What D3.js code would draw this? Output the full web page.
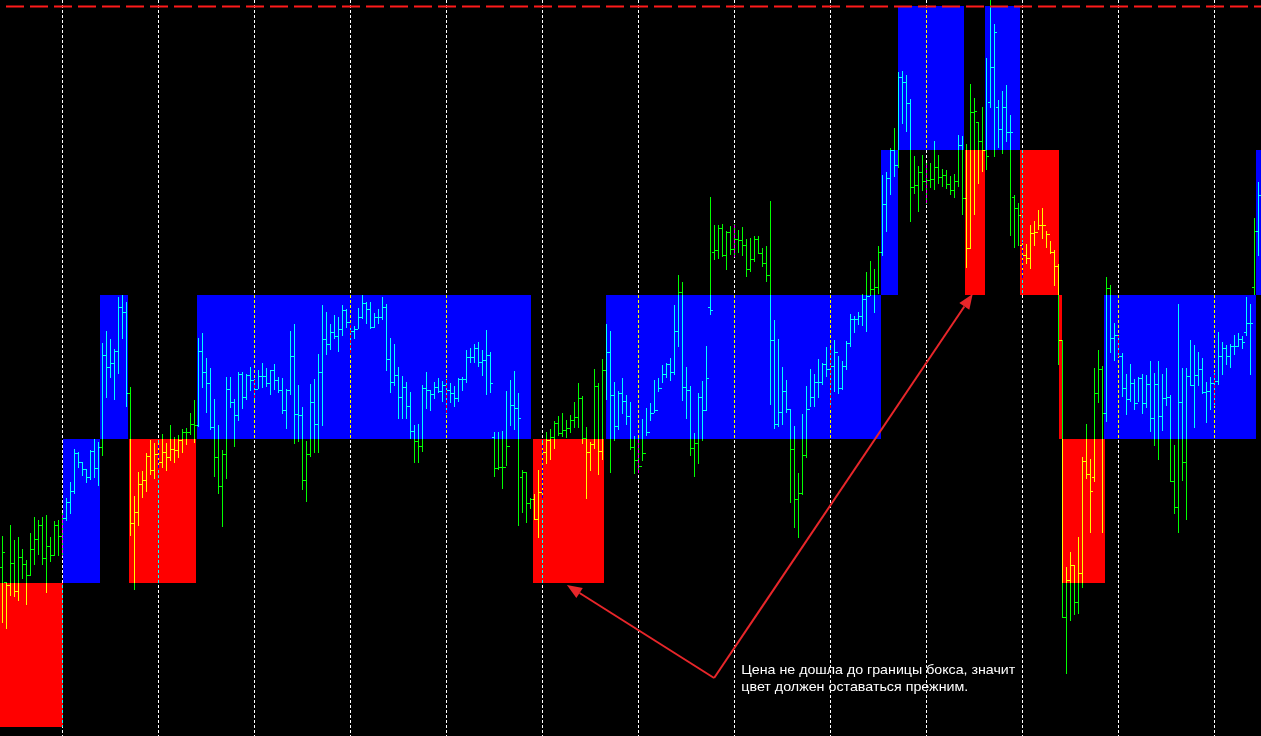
<!DOCTYPE html>
<html><head><meta charset="utf-8">
<script src="https://cdn.jsdelivr.net/npm/d3@7"></script>
<style>html,body{margin:0;padding:0;background:#000;overflow:hidden}</style>
</head><body>
<svg id="c" width="1261" height="736"></svg>
<script>
// ---- data (price in points above the lowest box level) ----
const highs = [191,145,202,187,190,178,167,194,210,207,
210,212,190,206,207,214,229,245,278,275,
265,258,277,288,285,384,396,388,378,430,
432,425,340,231,255,256,274,287,284,284,
293,284,302,290,292,298,299,314,327,389,
394,369,359,328,302,277,350,350,328,355,
355,353,360,348,357,364,359,357,363,350,
349,338,396,403,342,320,286,343,348,373,
422,415,403,412,410,422,418,402,401,419,
432,425,425,414,418,430,423,389,383,360,
351,345,335,302,303,342,355,337,345,349,
346,348,344,341,349,350,377,379,383,385,
377,397,375,295,295,296,336,347,356,334,
257,255,229,233,257,284,295,298,306,311,
314,307,312,325,344,331,300,285,358,344,
368,403,396,345,336,349,332,325,291,289,
308,319,324,347,349,362,364,369,422,452,
445,360,341,294,334,346,381,530,502,502,
503,496,501,503,497,500,488,489,491,491,
479,481,526,407,388,360,347,318,301,254,
313,341,358,353,368,364,380,379,387,371,
366,386,413,411,415,433,455,466,458,481,
552,555,579,599,655,656,652,628,571,561,
572,564,564,586,572,558,557,551,553,592,
591,583,643,629,605,620,669,727,703,627,
636,642,612,532,524,485,483,502,506,517,
519,496,486,477,463,387,160,175,162,190,
270,303,268,359,377,361,450,442,404,391,
374,353,363,348,350,353,352,366,354,366,
353,359,332,282,423,359,359,387,382,375,
369,345,350,355,395,385,382,383,392,394,
391,430,423,509,545];
const lows = [105,99,132,131,127,149,123,152,163,173,
163,135,166,172,172,172,207,214,234,260,
252,245,248,250,242,272,330,350,328,354,
389,321,192,138,202,230,236,253,249,260,
260,257,267,265,270,275,283,293,285,301,
340,315,298,251,234,201,249,320,281,307,
319,328,337,328,339,340,341,333,338,335,
314,299,333,284,286,238,226,271,275,275,
302,373,378,389,376,392,400,375,389,399,
409,404,399,400,404,408,357,335,342,309,
309,309,289,265,265,276,319,317,329,335,
326,314,325,321,326,337,345,365,365,361,
352,333,335,251,258,239,262,302,298,202,
215,205,219,208,190,230,264,268,279,292,
291,290,295,300,300,284,229,257,279,253,
268,328,255,287,298,314,303,278,254,255,
267,292,307,315,336,345,350,347,353,381,
327,309,272,251,264,287,317,413,468,469,
471,458,473,471,475,472,451,456,466,474,
461,446,323,299,301,303,315,225,200,190,
233,270,321,321,330,343,351,320,336,334,
338,358,381,395,403,402,396,432,415,434,
472,496,533,551,560,604,596,506,534,516,
537,524,540,538,544,541,539,533,530,541,
513,460,479,513,544,556,558,620,571,580,
574,586,492,480,482,450,464,459,482,498,
489,480,474,442,363,110,54,107,113,114,
140,249,195,246,325,195,306,375,367,371,
331,313,326,318,326,314,320,296,282,268,
297,322,246,214,195,247,208,342,300,342,
334,305,318,322,343,353,363,360,373,381,
379,392,353,433,472];
const opens = [160,145,142,164,136,170,163,152,178,188,
202,169,181,172,202,191,209,225,236,274,
265,258,250,276,259,280,372,360,364,376,
420,415,334,204,215,243,247,271,257,273,
265,275,270,278,277,287,295,295,303,302,
376,355,344,300,270,241,273,338,325,312,
353,330,352,347,338,351,351,344,357,347,
337,317,337,371,313,312,247,273,325,303,
355,388,383,395,391,398,417,405,396,398,
410,424,418,400,410,410,420,368,345,352,
330,340,321,296,286,281,339,337,333,340,
336,342,337,334,329,348,348,370,370,379,
365,367,372,290,259,260,260,281,322,319,
250,255,224,228,208,235,275,287,290,304,
294,297,299,307,310,329,289,275,283,341,
276,357,375,332,301,334,326,311,280,267,
261,274,295,314,317,339,353,363,355,396,
435,340,337,279,284,330,317,420,475,477,
499,472,495,478,488,487,482,458,468,488,
474,464,452,387,303,315,336,318,278,228,
234,272,318,330,345,345,363,358,361,375,
339,361,384,408,408,411,428,431,438,440,
475,523,549,577,562,650,645,624,540,542,
555,546,547,548,560,550,552,543,537,546,
582,529,479,615,605,586,577,625,660,620,
598,620,595,530,519,482,472,469,494,495,
502,502,493,475,461,387,110,147,162,125,
154,266,253,250,334,358,314,439,389,392,
371,339,328,344,324,349,324,343,309,343,
311,329,330,246,220,325,265,351,342,352,
358,335,336,344,346,371,379,371,381,381,
388,395,404,440,496];
const closes = [175,142,164,136,170,163,152,178,188,202,
169,181,172,202,191,209,225,236,274,265,
258,250,276,259,280,372,360,364,376,420,
415,334,204,215,243,247,271,257,273,265,
275,270,278,277,287,295,295,303,302,376,
355,344,300,270,241,273,338,325,312,353,
330,352,347,338,351,351,344,357,347,337,
317,337,371,313,312,247,273,325,303,355,
388,383,395,391,398,417,405,396,398,410,
424,418,400,410,410,420,368,345,352,330,
340,321,296,286,281,339,337,333,340,336,
342,337,334,329,348,348,370,370,379,365,
367,372,344,259,260,260,281,322,319,309,
255,224,228,208,235,275,287,290,304,294,
297,299,307,310,329,289,275,283,341,276,
357,375,332,301,334,326,311,280,267,261,
274,295,314,317,339,353,363,355,396,435,
340,337,279,284,330,317,349,417,477,499,
472,495,478,488,487,482,458,468,488,474,
464,452,387,303,315,336,318,278,228,234,
272,318,330,345,345,363,358,361,375,339,
361,384,408,408,411,428,431,438,440,475,
523,549,577,562,650,645,624,540,542,555,
546,547,548,560,550,552,543,537,546,582,
529,479,615,616,586,577,571,660,695,598,
620,595,595,519,512,472,469,494,495,502,
502,493,475,461,387,110,147,162,125,154,
266,253,236,334,358,314,439,389,392,371,
339,328,344,324,349,324,343,309,343,311,
329,330,246,220,325,265,351,342,352,358,
335,336,344,346,371,379,371,381,381,388,
385,404,404,496,532];

// box grid levels and boxes (bar-index spans)
const levels = [0,144,288,432,577,721];
const boxFrom  = [-0.625,15.125,24.375,31.625,48.625,132.625,150.875,219.625,223.875,240.625,245.625,254.375,264.125,264.875,275.375,313.375];
const boxTo    = [15.125,24.375,31.375,48.375,132.125,150.375,219.625,223.875,240.375,245.625,254.375,264.125,264.875,275.625,313.375,314.625];
const boxLevel = [0,1,2,1,2,1,2,3,4,3,4,3,2,1,2,3];
const boxDir   = ["down","up","up","down","up","down","up","up","up","down","up","down","down","down","up","up"];
const separatorBars = [15,39,63,87,111,135,159,183,207,231,255,279,303];
const noteLines = ["Цена не дошла до границы бокса, значит","цвет должен оставаться прежним."];
const noteAnchor = {bar:177.9, value:49};
const noteTargets = [{bar:141.1, value:142},{bar:242.55, value:433}];
const noteText = {bar:184.7, value:53};

// ---- drawing ----
const W = 1261, H = 736;
const svg = d3.select("#c");
svg.append("rect").attr("width", W).attr("height", H).attr("fill", "#000");
const x = d3.scaleLinear().domain([0, highs.length - 1]).range([2.5, 1258.5]);
const y = d3.scaleLinear().domain([levels[0], levels[5]]).range([727, 6]);
const boxColor = {up: "#0000ff", down: "#ff0000"};

svg.append("g").attr("shape-rendering", "crispEdges")
  .selectAll("rect").data(d3.range(boxFrom.length)).join("rect")
  .attr("x", i => Math.round(x(boxFrom[i])))
  .attr("width", i => Math.round(x(boxTo[i])) - Math.round(x(boxFrom[i])))
  .attr("y", i => Math.round(y(levels[boxLevel[i] + 1])))
  .attr("height", i => Math.round(y(levels[boxLevel[i]])) - Math.round(y(levels[boxLevel[i] + 1])))
  .attr("fill", i => boxColor[boxDir[i]]);

// period separators
svg.append("g").style("mix-blend-mode", "difference").attr("shape-rendering", "crispEdges")
  .selectAll("line").data(separatorBars).join("line")
  .attr("x1", d => x(d)).attr("x2", d => x(d))
  .attr("y1", 0).attr("y2", H)
  .attr("stroke", "#fff").attr("stroke-width", 1).attr("stroke-dasharray", "3,2");

// price bars
const bars = svg.append("g").style("mix-blend-mode", "difference").attr("shape-rendering", "crispEdges")
  .attr("stroke", "#00ff00").attr("stroke-width", 1);
const idx = d3.range(highs.length);
const ry = v => Math.round(y(v)) + 0.5;
bars.selectAll("line.hl").data(idx).join("line").attr("class", "hl")
  .attr("x1", i => x(i)).attr("x2", i => x(i))
  .attr("y1", i => Math.round(y(highs[i]))).attr("y2", i => Math.round(y(lows[i])) + 1);
bars.selectAll("line.op").data(idx).join("line").attr("class", "op")
  .attr("x1", i => x(i) - 2.5).attr("x2", i => x(i) - 0.5)
  .attr("y1", i => ry(opens[i])).attr("y2", i => ry(opens[i]));
bars.selectAll("line.cl").data(idx).join("line").attr("class", "cl")
  .attr("x1", i => x(i) + 0.5).attr("x2", i => x(i) + 2.5)
  .attr("y1", i => ry(closes[i])).attr("y2", i => ry(closes[i]));

// top level dashed line
svg.append("line")
  .attr("x1", 6).attr("x2", W).attr("y1", y(levels[5]) + 0.5).attr("y2", y(levels[5]) + 0.5)
  .attr("stroke", "#ff1a1a").attr("stroke-width", 2).attr("stroke-dasharray", "18,6");

// annotation arrows
const arrowColor = "#e8262a";
const ax = x(noteAnchor.bar), ay = y(noteAnchor.value);
const ag = svg.append("g");
noteTargets.forEach(t => {
  const tx = x(t.bar), ty = y(t.value);
  const ang = Math.atan2(ty - ay, tx - ax);
  const len = 15, hw = 6;
  const bx = tx - len * Math.cos(ang), by = ty - len * Math.sin(ang);
  ag.append("line").attr("x1", ax).attr("y1", ay).attr("x2", bx).attr("y2", by)
    .attr("stroke", arrowColor).attr("stroke-width", 2);
  ag.append("path")
    .attr("d", `M${tx},${ty}L${bx - hw * Math.sin(ang)},${by + hw * Math.cos(ang)}L${bx + hw * Math.sin(ang)},${by - hw * Math.cos(ang)}Z`)
    .attr("fill", arrowColor);
});

// annotation text
const tx0 = x(noteText.bar), ty0 = y(noteText.value);
const lens = [274, 227];
svg.append("g").selectAll("text").data(noteLines).join("text")
  .attr("x", tx0).attr("y", (d, i) => ty0 + i * 16.5)
  .attr("fill", "#fff")
  .attr("font-family", "'Liberation Sans', Arial, sans-serif")
  .attr("font-size", 13)
  .attr("textLength", (d, i) => lens[i]).attr("lengthAdjust", "spacingAndGlyphs")
  .text(d => d);
</script>
</body></html>
